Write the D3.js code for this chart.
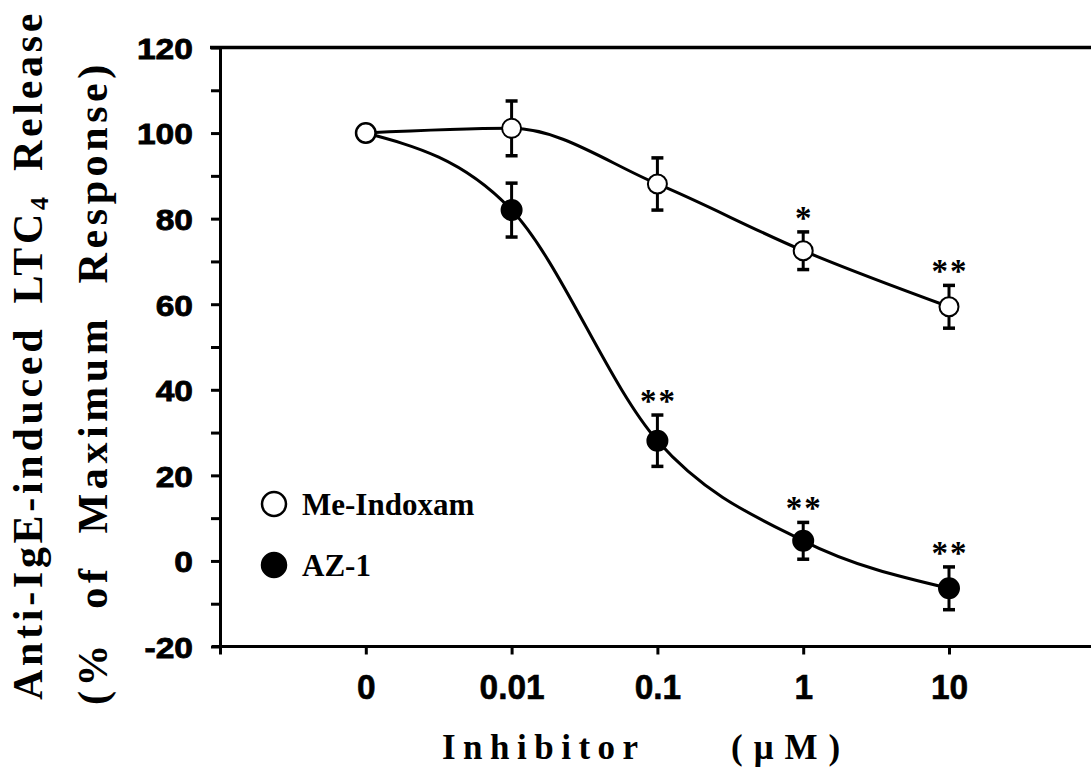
<html>
<head>
<script src="https://cdn.jsdelivr.net/npm/d3@7"></script>
<style>
  body { margin: 0; background: #fff; }
  .tick line, .domain { stroke: #000; stroke-width: 3; }
</style>
</head>
<body>
<div id="chart"></div>
<script>
// data (% of maximum response)
var categories = ["0", "0.01", "0.1", "1", "10"];
var meIndoxam = [100, 101.1, 88.1, 72.5, 59.4];
var meIndoxamErr = [0, 6.4, 6.1, 4.4, 5.0];
var az1 = [100, 82.0, 28.1, 4.7, -6.4];
var az1Err = [0, 6.3, 6.0, 4.3, 5.0];
var meStars = ["", "", "", "*", "**"];
var azStars = ["", "", "**", "**", "**"];
var yTicks = [-20, 0, 20, 40, 60, 80, 100, 120];

var width = 1091, height = 772;
var serif = "'Liberation Serif', 'Times New Roman', serif";
var sans = "'Liberation Sans', Arial, sans-serif";

var svg = d3.select("#chart").append("svg")
    .attr("width", width)
    .attr("height", height);

// x is the category index; -1 sits on the y axis
var x = d3.scaleLinear().domain([-1, 5]).range([220, 1094.8]);
var y = d3.scaleLinear().domain([-20, 120]).range([646.5, 47.5]);

// top frame line
svg.append("line")
    .attr("x1", x(-1) - 10).attr("x2", x(5))
    .attr("y1", y(120)).attr("y2", y(120))
    .attr("stroke", "#000").attr("stroke-width", 3.5);

// y axis, minor ticks every 10
var yAxis = svg.append("g")
    .attr("transform", "translate(" + x(-1) + ",0)")
    .call(d3.axisLeft(y).tickValues(d3.range(-20, 121, 10)).tickSize(9).tickSizeOuter(0)
        .tickFormat(function(d) { return yTicks.indexOf(d) >= 0 ? d : ""; }));
yAxis.selectAll("text")
    .attr("x", -27 / 1.12)
    .attr("dy", "0.36em")
    .attr("transform", "scale(1.12,1)")
    .style("font-family", sans)
    .style("font-weight", "bold")
    .style("font-size", "30px")
    .style("stroke", "#000").style("stroke-width", 0.8)
    .attr("fill", "#000");

// x axis
var xAxis = svg.append("g")
    .attr("transform", "translate(0," + y(-20) + ")")
    .call(d3.axisBottom(x).tickValues(d3.range(-1, 6)).tickSize(8).tickSizeOuter(0)
        .tickFormat(function(d) { return categories[d] || ""; }));
xAxis.select(".domain").attr("d", "M" + (x(-1) - 8) + ",0H" + x(5));
xAxis.selectAll("text")
    .attr("y", 52.5).attr("dy", 0)
    .attr("transform", "scale(0.93,1)")
    .style("font-family", sans)
    .style("font-weight", "bold")
    .style("font-size", "36px")
    .style("stroke", "#000").style("stroke-width", 0.6)
    .attr("fill", "#000");

var line = d3.line()
    .x(function(d, i) { return x(i); })
    .y(function(d) { return y(d); })
    .curve(d3.curveMonotoneX);

function drawSeries(vals, errs, stars, filled) {
  var g = svg.append("g");
  g.append("path")
      .attr("d", line(vals))
      .attr("fill", "none")
      .attr("stroke", "#000")
      .attr("stroke-width", 3);

  vals.forEach(function(v, i) {
    if (errs[i] > 0) {
      var top = y(v + errs[i]), bot = y(v - errs[i]);
      g.append("line").attr("x1", x(i)).attr("x2", x(i)).attr("y1", top).attr("y2", bot)
          .attr("stroke", "#000").attr("stroke-width", 3);
      [top, bot].forEach(function(yy) {
        g.append("line").attr("x1", x(i) - 6).attr("x2", x(i) + 6).attr("y1", yy).attr("y2", yy)
            .attr("stroke", "#000").attr("stroke-width", 3.5);
      });
    }
    g.append("circle")
        .attr("cx", x(i)).attr("cy", y(v))
        .attr("r", filled ? 10 : 9.5)
        .attr("fill", filled ? "#000" : "#fff")
        .attr("stroke", "#000").attr("stroke-width", 2);
    if (stars[i]) {
      g.append("text")
          .attr("x", x(i) + 1).attr("y", y(v + errs[i]) - 3)
          .attr("text-anchor", "middle")
          .style("font-family", serif)
          .style("font-weight", "bold")
          .style("font-size", "33px")
          .style("letter-spacing", "2px")
          .text(stars[i]);
    }
  });
}

// AZ-1 first so the open circle at 0 stays on top
drawSeries(az1, az1Err, azStars, true);
drawSeries(meIndoxam, meIndoxamErr, meStars, false);

// legend
var legend = [{name: "Me-Indoxam", filled: false, cy: 504}, {name: "AZ-1", filled: true, cy: 565}];
legend.forEach(function(l) {
  svg.append("circle")
      .attr("cx", 274).attr("cy", l.cy).attr("r", 12)
      .attr("fill", l.filled ? "#000" : "#fff")
      .attr("stroke", "#000").attr("stroke-width", 2.5);
  svg.append("text")
      .attr("x", 302).attr("y", l.cy + 11)
      .style("font-family", serif)
      .style("font-weight", "bold")
      .style("font-size", "31px")
      .text(l.name);
});

// axis titles
svg.append("text")
    .attr("x", 442).attr("y", 759)
    .style("font-family", serif).style("font-weight", "bold").style("font-size", "35px")
    .style("letter-spacing", "7.5px")
    .text("Inhibitor");
svg.append("text")
    .attr("x", 731).attr("y", 759)
    .style("font-family", serif).style("font-weight", "bold").style("font-size", "35px")
    .style("letter-spacing", "11px")
    .text("(\u03bcM)");

var yt1 = svg.append("text")
    .attr("transform", "translate(42,700) rotate(-90)")
    .style("font-family", serif).style("font-weight", "bold").style("font-size", "42px")
    .style("letter-spacing", "3.7px").style("word-spacing", "8px");
yt1.append("tspan").text("Anti-IgE-induced LTC");
yt1.append("tspan").attr("dy", 6).style("font-size", "26px").text("4");
yt1.append("tspan").attr("dy", -6).text(" Release");

svg.append("text")
    .attr("transform", "translate(107,705) rotate(-90)")
    .style("font-family", serif).style("font-weight", "bold").style("font-size", "42px")
    .style("letter-spacing", "4.6px").style("word-spacing", "16px")
    .text("(% of Maximum Response)");
</script>
</body>
</html>
